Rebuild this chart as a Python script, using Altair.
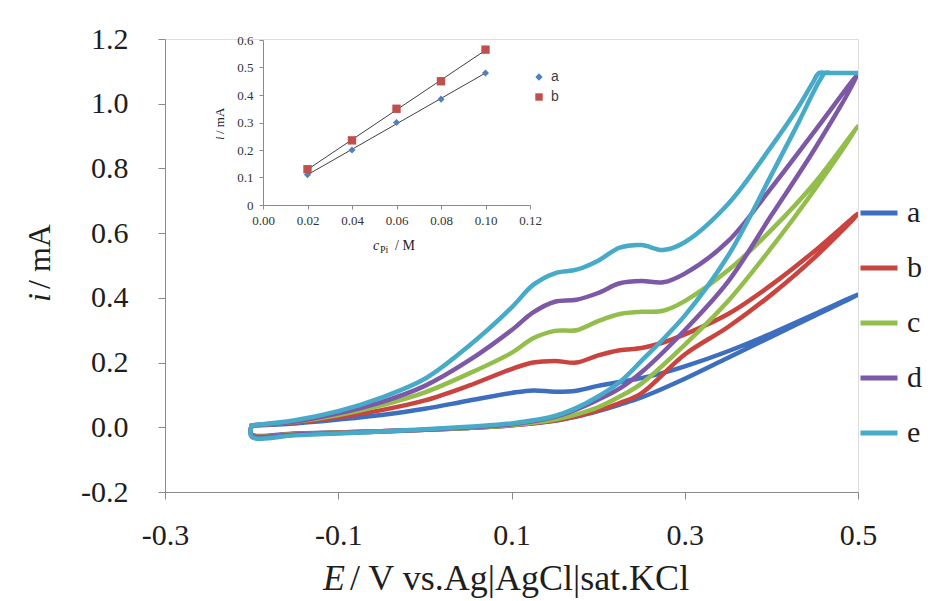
import altair as alt
import pandas as pd

# ---------------- main cyclic voltammograms ----------------
CURVES = ["a", "b", "c", "d", "e"]
COLORS = ["#3D6FBE", "#C9433F", "#93BE4C", "#7D58A6", "#46AAC8"]

# forward (upper, with the peaks) branch potentials
E_UP = [-0.2, -0.15, -0.1, -0.05, 0.0, 0.05, 0.1, 0.125, 0.15, 0.175, 0.2,
        0.225, 0.25, 0.275, 0.3, 0.35, 0.4, 0.45, 0.5]
# return (lower, steep) branch potentials
E_DN = [0.45, 0.4, 0.35, 0.3, 0.25, 0.225, 0.2, 0.175, 0.15, 0.1, 0.05,
        0.0, -0.05, -0.1, -0.15, -0.2]

I_UP_A = [0.005, 0.012, 0.024, 0.038, 0.057, 0.082, 0.106, 0.114, 0.110, 0.113,
          0.128, 0.140, 0.152, 0.168, 0.188, 0.235, 0.290, 0.350, 0.410]
I_UP_B = [0.006, 0.015, 0.031, 0.053, 0.083, 0.128, 0.180, 0.200, 0.205, 0.200,
          0.222, 0.238, 0.245, 0.262, 0.287, 0.350, 0.440, 0.545, 0.660]
I_UP_C = [0.006, 0.017, 0.038, 0.068, 0.108, 0.165, 0.230, 0.275, 0.298, 0.300,
          0.328, 0.350, 0.357, 0.360, 0.390, 0.485, 0.610, 0.755, 0.930]
I_UP_D = [0.006, 0.018, 0.043, 0.078, 0.128, 0.205, 0.300, 0.355, 0.388, 0.394,
          0.415, 0.445, 0.452, 0.448, 0.475, 0.575, 0.740, 0.915, 1.090]

I_DN_A = [0.345, 0.280, 0.215, 0.150, 0.092, 0.070, 0.050, 0.033, 0.020, 0.006,
          -0.002, -0.008, -0.012, -0.016, -0.019, -0.022]
I_DN_B = [0.525, 0.410, 0.310, 0.225, 0.105, 0.075, 0.052, 0.034, 0.021, 0.006,
          -0.002, -0.008, -0.012, -0.016, -0.020, -0.023]
I_DN_C = [0.735, 0.555, 0.390, 0.255, 0.135, 0.095, 0.062, 0.040, 0.024, 0.007,
          -0.002, -0.008, -0.013, -0.017, -0.021, -0.024]
I_DN_D = [0.860, 0.655, 0.450, 0.300, 0.170, 0.120, 0.085, 0.055, 0.032, 0.009,
          -0.001, -0.008, -0.013, -0.018, -0.022, -0.025]

# curve e saturates at ~1.095 mA
E_UP_E = [-0.2, -0.15, -0.1, -0.05, 0.0, 0.05, 0.1, 0.125, 0.15, 0.175, 0.2,
          0.225, 0.25, 0.275, 0.3, 0.35, 0.4, 0.43, 0.448, 0.455, 0.465, 0.49, 0.5]
I_UP_E = [0.006, 0.022, 0.050, 0.092, 0.150, 0.250, 0.370, 0.440, 0.476, 0.487,
          0.515, 0.555, 0.563, 0.548, 0.572, 0.690, 0.868, 0.985, 1.066, 1.095,
          1.095, 1.095, 1.095]
E_DN_E = [0.49, 0.47, 0.462, 0.455, 0.43, 0.4, 0.35, 0.3, 0.25, 0.225, 0.2,
          0.175, 0.15, 0.1, 0.05, 0.0, -0.05, -0.1, -0.15, -0.2]
I_DN_E = [1.095, 1.095, 1.095, 1.068, 0.935, 0.780, 0.530, 0.345, 0.205, 0.140,
          0.095, 0.060, 0.035, 0.012, 0.002, -0.006, -0.013, -0.019, -0.025, -0.030]

# ---------------- inset calibration ----------------
CONC = [0.02, 0.04, 0.06, 0.08, 0.10]
INSET_A = [0.11, 0.20, 0.30, 0.385, 0.48]
INSET_B = [0.13, 0.235, 0.35, 0.45, 0.565]

# ---------------- build tables ----------------
series = [
    ("a", E_UP, I_UP_A, E_DN, I_DN_A),
    ("b", E_UP, I_UP_B, E_DN, I_DN_B),
    ("c", E_UP, I_UP_C, E_DN, I_DN_C),
    ("d", E_UP, I_UP_D, E_DN, I_DN_D),
    ("e", E_UP_E, I_UP_E, E_DN_E, I_DN_E),
]
rows = []
for name, eu, iu, ed, idn in series:
    k = 0
    for e, i in list(zip(eu, iu)) + list(zip(ed, idn)) + [(eu[0], iu[0])]:
        rows.append({"curve": name, "k": k, "E": e, "I": i})
        k += 1
cv = pd.DataFrame(rows)

inset = pd.DataFrame(
    [{"series": "a", "c": c, "i": v} for c, v in zip(CONC, INSET_A)]
    + [{"series": "b", "c": c, "i": v} for c, v in zip(CONC, INSET_B)]
)

SERIF = "Liberation Serif"
AX = "#8A8A8A"
TXT = "#1E1E1E"

W, H = 693, 453

minus_fmt = "(datum.value < 0 ? '-' : '') + format(abs(datum.value), '.1f')"

main = alt.Chart(cv).mark_line(
    strokeWidth=4.5, strokeCap="round", strokeJoin="round",
    interpolate="catmull-rom", clip=True
).encode(
    x=alt.X("E:Q",
            scale=alt.Scale(domain=[-0.3, 0.5], nice=False, zero=False),
            axis=alt.Axis(values=[-0.3, -0.1, 0.1, 0.3, 0.5], title=None,
                          labelExpr=minus_fmt, grid=False, orient="bottom",
                          labelFlush=False,
                          domainColor=AX, tickColor=AX, tickSize=7,
                          labelFont=SERIF, labelFontSize=30, labelColor=TXT,
                          labelPadding=21)),
    y=alt.Y("I:Q",
            scale=alt.Scale(domain=[-0.2, 1.2], nice=False, zero=False),
            axis=alt.Axis(values=[-0.2, 0.0, 0.2, 0.4, 0.6, 0.8, 1.0, 1.2],
                          title=None, labelExpr=minus_fmt, grid=False,
                          orient="left", labelFlush=False,
                          domainColor=AX, tickColor=AX,
                          tickSize=7, labelFont=SERIF, labelFontSize=30,
                          labelColor=TXT, labelPadding=30)),
    color=alt.Color("curve:N",
                    scale=alt.Scale(domain=CURVES, range=COLORS),
                    legend=alt.Legend(orient="none", legendX=693, legendY=153,
                                      title=None, symbolType="stroke",
                                      symbolSize=1369, symbolStrokeWidth=5,
                                      labelFont=SERIF, labelFontSize=30,
                                      labelColor=TXT, labelOffset=7,
                                      rowPadding=19, padding=0)),
    order="k:Q",
)

# inset scales: placed inside the plot area by pixel range
ix = alt.Scale(domain=[0, 0.12], range=[98, 365], nice=False, zero=False)
iy = alt.Scale(domain=[0, 0.6], range=[166, 1], nice=False, zero=False)

inset_legend = alt.Legend(orient="none", legendX=367, legendY=31, title=None,
                          labelFont="Liberation Sans", labelFontSize=14,
                          labelColor="#404040", symbolSize=55, rowPadding=6,
                          padding=0, labelOffset=5)

trend = alt.Chart(inset).transform_regression(
    "c", "i", groupby=["series"]
).mark_line(color="#404040", strokeWidth=1).encode(
    x=alt.X("c:Q", scale=ix,
            axis=alt.Axis(values=[0, 0.02, 0.04, 0.06, 0.08, 0.10, 0.12],
                          format=".2f", title=None, grid=False,
                          orient="bottom", offset=-(H - 166), labelFlush=False,
                          domainColor=AX, tickColor=AX, tickSize=4,
                          labelFont=SERIF, labelFontSize=13,
                          labelColor="#333333", labelPadding=5)),
    y=alt.Y("i:Q", scale=iy,
            axis=alt.Axis(values=[0, 0.1, 0.2, 0.3, 0.4, 0.5, 0.6],
                          labelExpr="datum.value == 0 ? '0' : format(datum.value, '.1f')",
                          title=None, grid=False, orient="left", offset=-98,
                          labelFlush=False,
                          domainColor=AX, tickColor=AX, tickSize=4,
                          labelFont=SERIF, labelFontSize=13,
                          labelColor="#333333", labelPadding=6)),
    detail="series:N",
)

pts = alt.Chart(inset).mark_point(filled=True, opacity=1).encode(
    x=alt.X("c:Q", scale=ix),
    y=alt.Y("i:Q", scale=iy),
    color=alt.Color("series:N",
                    scale=alt.Scale(domain=["a", "b"], range=["#4F81BD", "#C0504D"]),
                    legend=inset_legend),
    shape=alt.Shape("series:N",
                    scale=alt.Scale(domain=["a", "b"], range=["diamond", "square"]),
                    legend=inset_legend),
    size=alt.condition("datum.series == 'a'", alt.value(50), alt.value(70)),
)

inset_chart = alt.layer(trend, pts)

one = pd.DataFrame({"z": [0]})


def label(text, x, y, size, italic=False, angle=0, baseline="alphabetic",
          font=SERIF, align="left", color=TXT):
    kw = dict(text=text, font=font, fontSize=size, align=align,
              baseline=baseline, color=color, angle=angle)
    if italic:
        kw["fontStyle"] = "italic"
    return alt.Chart(one).mark_text(**kw).encode(x=alt.value(x), y=alt.value(y))


titles = [
    # main x title
    label("E", 158, 551, 36, italic=True),
    label("/ V vs.Ag|AgCl|sat.KCl", 185, 551, 36),
    # main y title (rotated)
    label("i", -125, 263, 32, italic=True, angle=270, baseline="middle"),
    label("/ mA", -125, 250, 32, angle=270, baseline="middle"),
    # inset x title
    label("c", 208, 211, 14, italic=True),
    label("Pi", 215, 214, 10),
    label("/ M", 230, 211, 14),
    # inset y title
    label("i", 55, 101, 13, italic=True, angle=270, baseline="middle"),
    label("/ mA", 55, 95, 13, angle=270, baseline="middle"),
]

chart = alt.layer(main, inset_chart, *titles).resolve_scale(
    x="independent", y="independent", color="independent", shape="independent"
).properties(
    width=W, height=H,
    autosize=alt.AutoSizeParams(type="none"),
    padding={"left": 165, "top": 39, "right": 75, "bottom": 109},
).configure_view(stroke=None).configure(background="white")

chart.save("out.html", embed_options={"renderer": "svg", "actions": False})
